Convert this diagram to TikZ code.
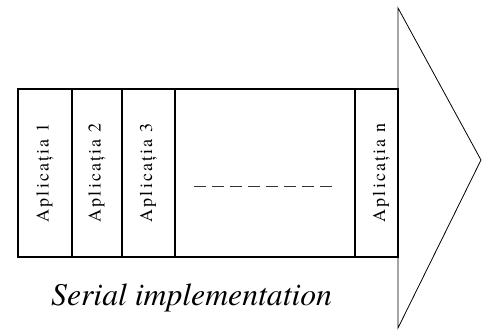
\documentclass[tikz,border=0pt]{standalone}
\usepackage{fontspec}
\setmainfont{texgyretermes-regular.otf}[ItalicFont=texgyretermes-italic.otf]
\usepackage{tikz}
\usetikzlibrary{positioning}
\tikzset{
    app/.style={rectangle, draw=black, line width=1.2pt, outer sep=0pt, inner sep=0pt, minimum height=168pt},
    appText/.style={rotate=90, inner sep=0pt, font=\fontsize{18}{18}\selectfont\addfontfeatures{LetterSpace=12}},
    head/.style={draw=black, line width=0.8pt, line join=miter},
    caption/.style={inner sep=0pt, font=\fontsize{31.7}{32}\selectfont\itshape}
}
\begin{document}
\begin{tikzpicture}[x=1pt, y=-1pt]
        \useasboundingbox (0,0) rectangle (483,330);

        % Columns
        \node[app, minimum width=54pt, anchor=north west] (col1) at (18,89) {};
        \node[app, minimum width=50pt, right=0pt of col1] (col2) {};
        \node[app, minimum width=53pt, right=0pt of col2] (col3) {};
        \node[app, minimum width=180pt, right=0pt of col3] (mid) {};
        \node[app, minimum width=43pt, right=0pt of mid] (coln) {};

        % Labels
        \node[appText] at (col1.center) {Aplicația 1};
        \node[appText] at (col2.center) {Aplicația 2};
        \node[appText] at (col3.center) {Aplicația 3};
        \node[appText] at ([xshift=5pt]coln.center) {Aplicația n};

        % Dots
        \draw[line width=1pt, black!80, dash pattern=on 12pt off 6pt]
            ([shift={(-71,13)}]mid.center) -- ([shift={(72,13)}]mid.center);

        % Arrow head
        \coordinate (top) at (398,8);
        \coordinate (tip) at (481,160);
        \coordinate (bot) at (398,328);
        \draw[head] (top) -- (tip) -- (bot) -- cycle;

        \node[caption, anchor=base west] (cap) at (51,305) {Serial implementation};
    \end{tikzpicture}
\end{document}
